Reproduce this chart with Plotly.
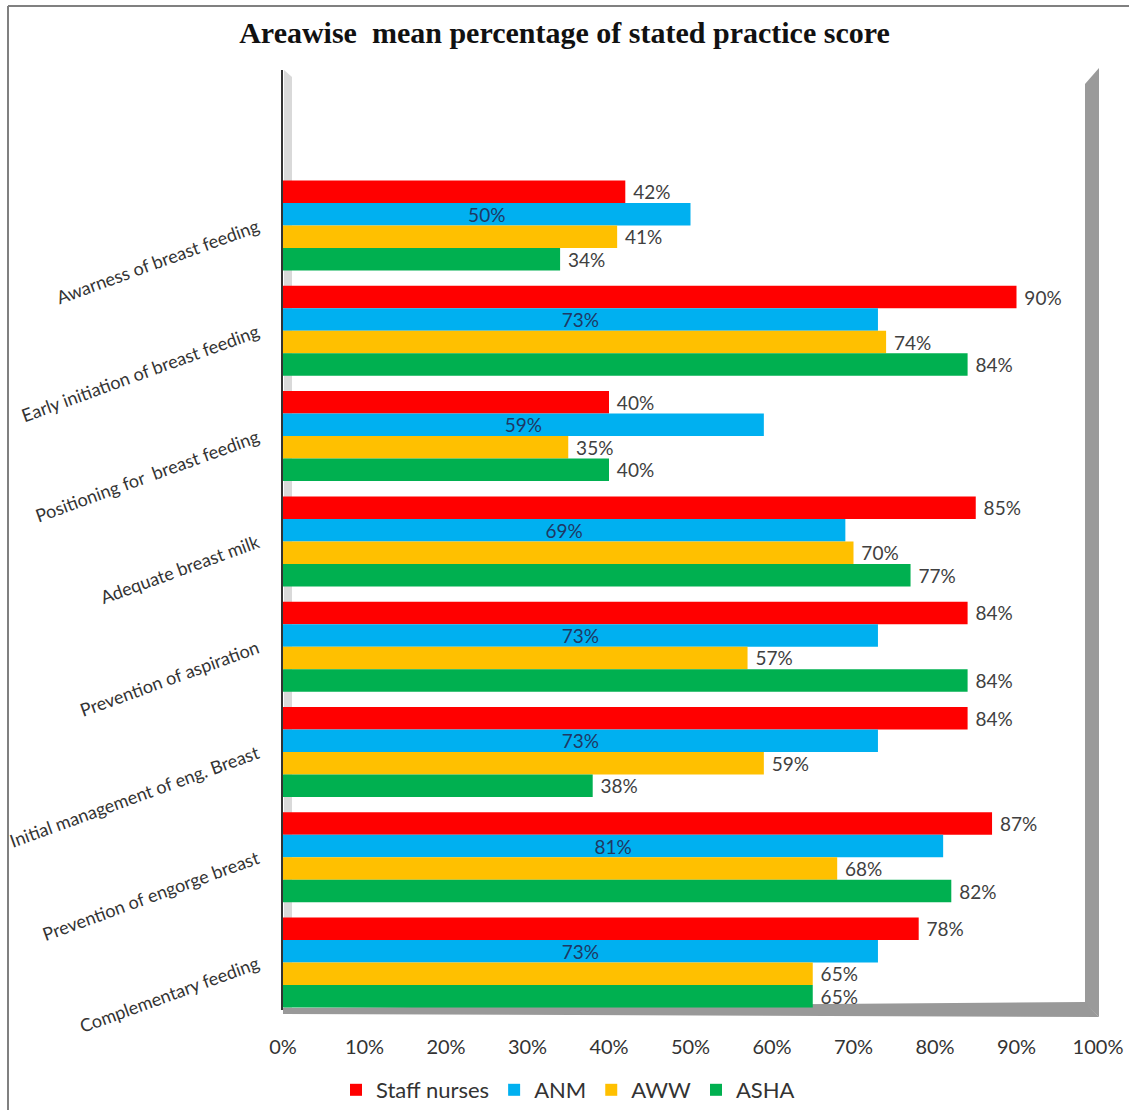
import plotly.graph_objects as go

categories = [
    "Awarness of breast feeding",
    "Early initiation of breast feeding",
    "Positioning for  breast feeding",
    "Adequate breast milk",
    "Prevention of aspiration",
    "Initial management of eng. Breast",
    "Prevention of engorge breast",
    "Complementary feeding",
]
staff_nurses = [42, 90, 40, 85, 84, 84, 87, 78]
anm = [50, 73, 59, 69, 73, 73, 81, 73]
aww = [41, 74, 35, 70, 57, 59, 68, 65]
asha = [34, 84, 40, 77, 84, 38, 82, 65]
series_names = ["Staff nurses", "ANM", "AWW", "ASHA"]
series_colors = ["#FF0000", "#00B0F0", "#FFC000", "#00B050"]
x_ticks = [0, 10, 20, 30, 40, 50, 60, 70, 80, 90, 100]
x_tick_labels = [f"{v}%" for v in x_ticks]

W, H = 1129, 1110
L, R, T, B = 283, 1098, 70, 1010
FONT = "Lato, Carlito, sans-serif"


def px(x):
    return (x - L) / (R - L)


def py(y):
    return (B - y) / (B - T)


fig = go.Figure()
for name, vals, col in zip(series_names, [staff_nurses, anm, aww, asha], series_colors):
    inside = name == "ANM"
    fig.add_trace(go.Bar(
        y=categories, x=vals, name=name, orientation="h",
        marker=dict(color=col, line=dict(width=0)),
        text=[(f"{v}%" if inside else f"\u00a0{v}%") for v in vals],
        textposition="inside" if inside else "outside",
        insidetextanchor="middle",
        textfont=dict(family=FONT, size=19,
                      color="#1F3864" if inside else "#404040"),
        constraintext="none",
        cliponaxis=False,
        hoverinfo="skip",
    ))

shapes = [
    # outer frame
    dict(type="line", xref="paper", yref="paper", x0=px(8), y0=py(6), x1=px(8), y1=py(1110),
         line=dict(color="#808080", width=2)),
    dict(type="line", xref="paper", yref="paper", x0=px(8), y0=py(6), x1=px(1129), y1=py(6),
         line=dict(color="#808080", width=2)),
    # left wall (light)
    dict(type="path", xref="paper", yref="paper", layer="below",
         path=f"M {px(284)},{py(70)} L {px(292)},{py(77)} L {px(292)},{py(1008)} L {px(284)},{py(1012)} Z",
         fillcolor="#d9d9d9", line=dict(width=0)),
    # right wall
    dict(type="path", xref="paper", yref="paper", layer="below",
         path=f"M {px(1085)},{py(84)} L {px(1099)},{py(68)} L {px(1099)},{py(1017)} L {px(1085)},{py(1003)} Z",
         fillcolor="#9a9a9a", line=dict(width=0)),
    # floor
    dict(type="path", xref="paper", yref="paper", layer="below",
         path=f"M {px(283)},{py(1008)} L {px(1085)},{py(1002)} L {px(1099)},{py(1017)} L {px(283)},{py(1014)} Z",
         fillcolor="#999999", line=dict(width=0)),
]

fig.update_layout(
    width=W, height=H,
    margin=dict(l=L, r=W - R, t=T, b=H - B, pad=0, autoexpand=False),
    paper_bgcolor="white", plot_bgcolor="rgba(0,0,0,0)",
    barmode="group", bargap=0.145, bargroupgap=0,
    title=dict(text="<b>Areawise\u00a0 mean percentage of stated practice score</b>",
               x=0.5, xref="container", xanchor="center",
               y=1 - 32 / H, yref="container", yanchor="middle",
               font=dict(family="Liberation Serif, Times New Roman, serif", size=30, color="#111111")),
    shapes=shapes,
    showlegend=True,
    legend=dict(orientation="h", x=px(336), xanchor="left", y=py(1069), yanchor="top",
                font=dict(family=FONT, size=22, color="#333333"),
                traceorder="normal", itemwidth=30, bgcolor="rgba(0,0,0,0)"),
    xaxis=dict(range=[0, 100], tickmode="array", tickvals=x_ticks, ticktext=x_tick_labels,
               showgrid=False, zeroline=False, automargin=False,
               showline=False, ticks="", ticklabelstandoff=23,
               tickfont=dict(family=FONT, size=20, color="#333333"),
               fixedrange=True),
    yaxis=dict(type="category", categoryorder="array", categoryarray=categories,
               range=[(B - 225.5) / 105.3, (T - 225.5) / 105.3],
               showgrid=False, zeroline=False, showline=True, linecolor="#333333", linewidth=2,
               ticks="", tickangle=-20, ticklabelstandoff=20, automargin=False,
               tickfont=dict(family=FONT, size=18, color="#333333"),
               fixedrange=True),
)

fig.write_html("out.html")
